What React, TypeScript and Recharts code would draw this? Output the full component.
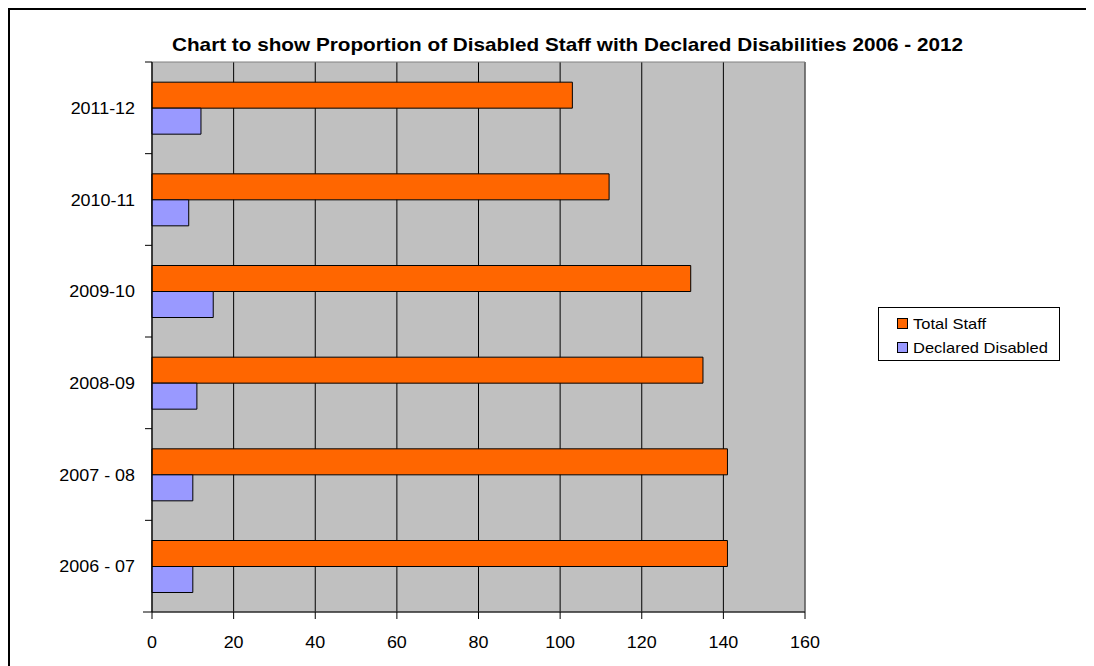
import React from 'react';
import { BarChart, Bar, XAxis, YAxis, CartesianGrid, ReferenceArea } from 'recharts';

// listed top to bottom, as drawn
const years = ['2011-12', '2010-11', '2009-10', '2008-09', '2007 - 08', '2006 - 07'];
const totalStaff = [103, 112, 132, 135, 141, 141];
const declaredDisabled = [12, 9, 15, 11, 10, 10];
const xTicks = [0, 20, 40, 60, 80, 100, 120, 140, 160];
const seriesNames = ['Total Staff', 'Declared Disabled'];
const seriesColors = ['#FF6600', '#9999FF'];

const data = years.map((year, i) => ({
  year,
  total: totalStaff[i],
  disabled: declaredDisabled[i],
}));

const FONT = 'Arial, "Liberation Sans", sans-serif';
const STRETCH = 1.12; // source image is a bit wider than tall

const YTick = (props: any) => {
  const { x, y, payload, index } = props;
  const half = payload.offset || 0;
  const axisX = x + 17;
  return (
    <g>
      <line x1={axisX - 7} x2={axisX} y1={y - half} y2={y - half} stroke="#000" />
      {index === years.length - 1 && (
        <line x1={axisX - 9} x2={axisX} y1={y + half} y2={y + half} stroke="#000" />
      )}
      <text
        transform={`translate(${x},${y + 6}) scale(${STRETCH},1)`}
        textAnchor="end"
        fontSize={16}
        fontFamily={FONT}
        fill="#000"
      >
        {payload.value}
      </text>
    </g>
  );
};

const XTick = (props: any) => {
  const { x, y, payload } = props;
  return (
    <text
      transform={`translate(${x},${y + 29}) scale(${STRETCH},1)`}
      textAnchor="middle"
      fontSize={16}
      fontFamily={FONT}
      fill="#000"
    >
      {payload.value}
    </text>
  );
};

export default function App() {
  return (
    <div
      style={{
        position: 'relative',
        width: 1086,
        height: 658,
        borderLeft: '2px solid #000',
        borderTop: '2px solid #000',
        boxSizing: 'border-box',
        fontFamily: FONT,
      }}
    >
      <div style={{ position: 'absolute', left: -10, top: -10 }}>
        <BarChart
          width={1094}
          height={666}
          data={data}
          layout="vertical"
          margin={{ top: 62, right: 289, bottom: 24, left: 0 }}
          barCategoryGap="22%"
          barGap={0}
        >
          <CartesianGrid horizontal={false} fill="#C0C0C0" stroke="#000" />
          <ReferenceArea x1={0} x2={160} fill="none" stroke="#808080" strokeWidth={1} />
          <XAxis
            type="number"
            domain={[0, 160]}
            ticks={xTicks}
            interval={0}
            height={30}
            tickSize={7}
            tickMargin={0}
            axisLine={{ stroke: '#000' }}
            tickLine={{ stroke: '#000' }}
            tick={<XTick />}
          />
          <YAxis
            type="category"
            dataKey="year"
            width={152}
            tickSize={0}
            tickMargin={17}
            tickLine={false}
            axisLine={{ stroke: '#000' }}
            tick={<YTick />}
            interval={0}
          />
          <Bar dataKey="total" name={seriesNames[0]} fill={seriesColors[0]} stroke="#000" strokeWidth={1} isAnimationActive={false} />
          <Bar dataKey="disabled" name={seriesNames[1]} fill={seriesColors[1]} stroke="#000" strokeWidth={1} isAnimationActive={false} />
        </BarChart>
      </div>

      <div
        style={{
          position: 'absolute',
          left: -10,
          top: 25,
          width: 1135,
          textAlign: 'center',
          fontWeight: 'bold',
          fontSize: 18.5,
          lineHeight: '20px',
          fontFamily: FONT,
          transform: `scaleX(${STRETCH})`,
          transformOrigin: '567.5px 0',
        }}
      >
        Chart to show Proportion of Disabled Staff with Declared Disabilities 2006 - 2012
      </div>

      <div
        style={{
          position: 'absolute',
          left: 868,
          top: 297,
          width: 182,
          height: 54,
          border: '1px solid #000',
          boxSizing: 'border-box',
          background: '#fff',
          fontFamily: FONT,
          fontSize: 15,
          paddingTop: 3,
        }}
      >
        {seriesNames.map((name, i) => (
          <div key={name} style={{ display: 'flex', alignItems: 'center', height: 24, paddingLeft: 18 }}>
            <span
              style={{
                display: 'inline-block',
                width: 9,
                height: 9,
                background: seriesColors[i],
                border: '1px solid #000',
                marginRight: 5,
                flexShrink: 0,
              }}
            />
            <span style={{ display: 'inline-block', transform: 'scaleX(1.1)', transformOrigin: '0 50%', whiteSpace: 'nowrap' }}>
              {name}
            </span>
          </div>
        ))}
      </div>
    </div>
  );
}
